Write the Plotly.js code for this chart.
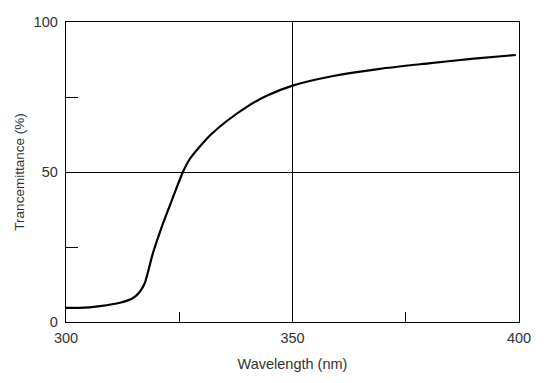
<!DOCTYPE html>
<html>
<head>
<meta charset="utf-8">
<script src="https://cdn.plot.ly/plotly-3.0.1.min.js"></script>
<style>html,body{margin:0;padding:0;background:#fff;}#chart{width:553px;height:383px;}</style>
</head>
<body>
<div id="chart"></div>
<script>
const wavelength = [300, 303, 307.5, 311.9, 314.8, 316.3, 317.4, 319.2, 321.4, 323.6, 325.8, 327.4, 329.6, 332, 335.5, 340, 344.3, 350, 359, 369.3, 380, 390, 399.3];
const transmittance = [4.7, 4.7, 5.3, 6.4, 8, 10.1, 13, 23, 32.8, 41.5, 50, 54.5, 58.6, 62.5, 67, 71.8, 75.4, 78.8, 82, 84.4, 86.2, 87.8, 89];
const xTicks = [300, 350, 400];
const yTicks = [0, 50, 100];
const xTitle = 'Wavelength (nm)';
const yTitle = 'Trancemittance (%)';

const trace = {
  x: wavelength, y: transmittance, type: 'scatter', mode: 'lines',
  line: {color: '#000', width: 2.2, shape: 'spline', smoothing: 0.6},
  hoverinfo: 'skip'
};
const font = {family: 'Liberation Sans, Arial, sans-serif', size: 14.5, color: '#333'};
const layout = {
  width: 553, height: 383,
  margin: {l: 66, r: 34, t: 22, b: 61},
  paper_bgcolor: '#fff', plot_bgcolor: '#fff',
  showlegend: false,
  font: font,
  xaxis: {
    range: [300, 400], tickvals: xTicks, ticktext: xTicks.map(String),
    ticks: '', showgrid: true, gridcolor: '#000', gridwidth: 1, zeroline: false,
    showline: true, linecolor: '#000', linewidth: 1.3, mirror: true,
    tickfont: font, ticklabelstandoff: 2,
    minor: {tick0: 325, dtick: 50, ticks: 'inside', ticklen: 10, tickcolor: '#000', tickwidth: 1, showgrid: false},
    title: {text: xTitle, font: font, standoff: 14}
  },
  yaxis: {
    range: [0, 100], tickvals: yTicks, ticktext: yTicks.map(String),
    ticks: '', showgrid: true, gridcolor: '#000', gridwidth: 1, zeroline: false,
    showline: true, linecolor: '#000', linewidth: 1.3, mirror: true,
    tickfont: font, ticklabelstandoff: 4,
    minor: {tick0: 25, dtick: 50, ticks: 'inside', ticklen: 12, tickcolor: '#000', tickwidth: 1, showgrid: false},
    title: {text: yTitle, font: {family: font.family, size: 13.5, color: '#333'}, standoff: 6}
  }
};
Plotly.newPlot('chart', [trace], layout, {displayModeBar: false, staticPlot: true});
</script>
</body>
</html>
